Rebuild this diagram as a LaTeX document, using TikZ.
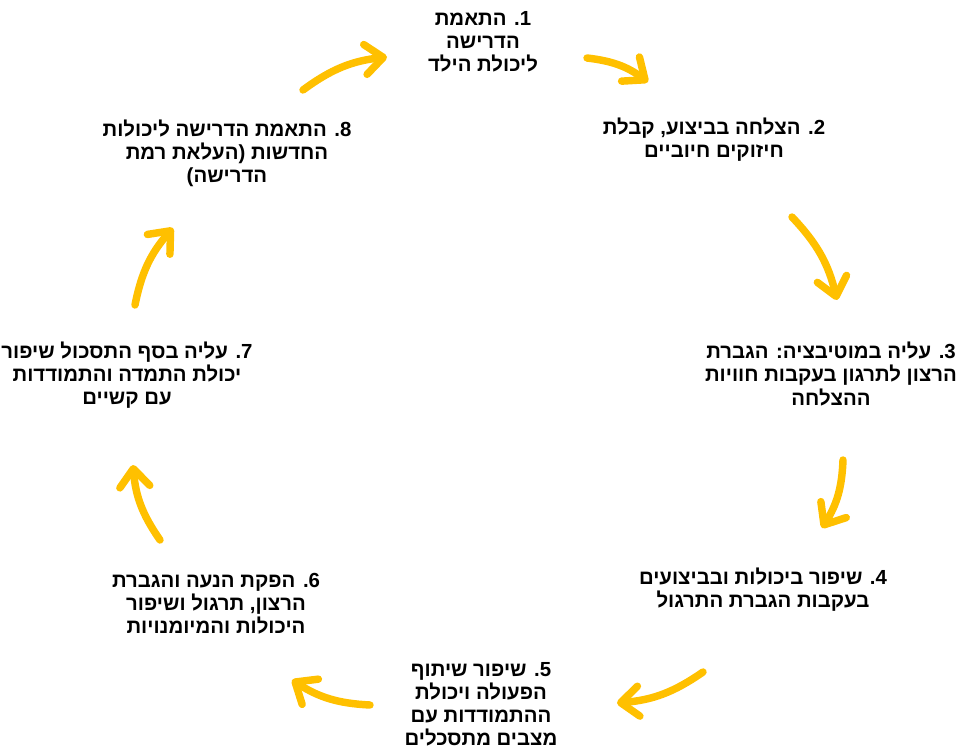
\documentclass[tikz,border=0pt]{standalone}
\usepackage{fontspec}
\usepackage{xcolor}
\usetikzlibrary{arrows.meta}
\setmainfont{Liberation Sans}
\newfontfamily\hebfont[Script=Hebrew]{Liberation Sans}
\TeXXeTstate=1
\newcommand{\rl}[1]{\beginR #1\endR}
\definecolor{cyc}{HTML}{FFC000}

\begin{document}
\begin{tikzpicture}[x=0.025cm,y=0.025cm,
  stage/.style={font=\hebfont\bfseries\fontsize{14.5pt}{16.4pt}\selectfont,align=center,inner sep=0pt},
  cyclearrow/.style={cyc,line width=5.3pt,line cap=round,line join=round,
    -{Straight Barb[round,length=4.5mm,width=7.5mm]}}]
\useasboundingbox (0,0) rectangle (962,-749);

% stages of the cycle
\node[stage] (n1) at (483,-42) {\rl{1. התאמת}\\\rl{הדרישה}\\\rl{ליכולת הילד}};
\node[stage] (n2) at (714,-140) {\rl{2. הצלחה בביצוע, קבלת}\\\rl{חיזוקים חיוביים}};
\node[stage] (n3) at (831,-374) {\rl{3. עליה במוטיבציה: הגברת}\\\rl{הרצון לתרגון בעקבות חוויות}\\\rl{ההצלחה}};
\node[stage] (n4) at (763,-590) {\rl{4. שיפור ביכולות ובביצועים}\\\rl{בעקבות הגברת התרגול}};
\node[stage] (n5) at (481,-704) {\rl{5. שיפור שיתוף}\\\rl{הפעולה ויכולת}\\\rl{ההתמודדות עם}\\\rl{מצבים מתסכלים}};
\node[stage] (n6) at (216,-604) {\rl{6. הפקת הנעה והגברת}\\\rl{הרצון, תרגול ושיפור}\\\rl{היכולות והמיומנויות}};
\node[stage] (n7) at (127,-375) {\rl{7. עליה בסף התסכול שיפור}\\\rl{יכולת התמדה והתמודדות}\\\rl{עם קשיים}};
\node[stage] (n8) at (227,-153) {\rl{8. התאמת הדרישה ליכולות}\\\rl{החדשות (העלאת רמת}\\\rl{הדרישה)}};

% arrows between the stages
\coordinate (s1) at (587,-58);  \coordinate (e1) at (648,-82);
\coordinate (s2) at (792,-217); \coordinate (e2) at (837,-300);
\coordinate (s3) at (843,-460); \coordinate (e3) at (822,-528);
\coordinate (s4) at (703,-672); \coordinate (e4) at (617,-703);
\coordinate (s5) at (370,-705); \coordinate (e5) at (292,-680);
\coordinate (s6) at (160,-540); \coordinate (e6) at (133,-465);
\coordinate (s7) at (135,-305); \coordinate (e7) at (173,-228);
\coordinate (s8) at (303,-90);  \coordinate (e8) at (387,-57);
\foreach \i in {1,...,8}
  \draw[cyclearrow] (s\i) to[bend left=15] (e\i);
\end{tikzpicture}
\end{document}
